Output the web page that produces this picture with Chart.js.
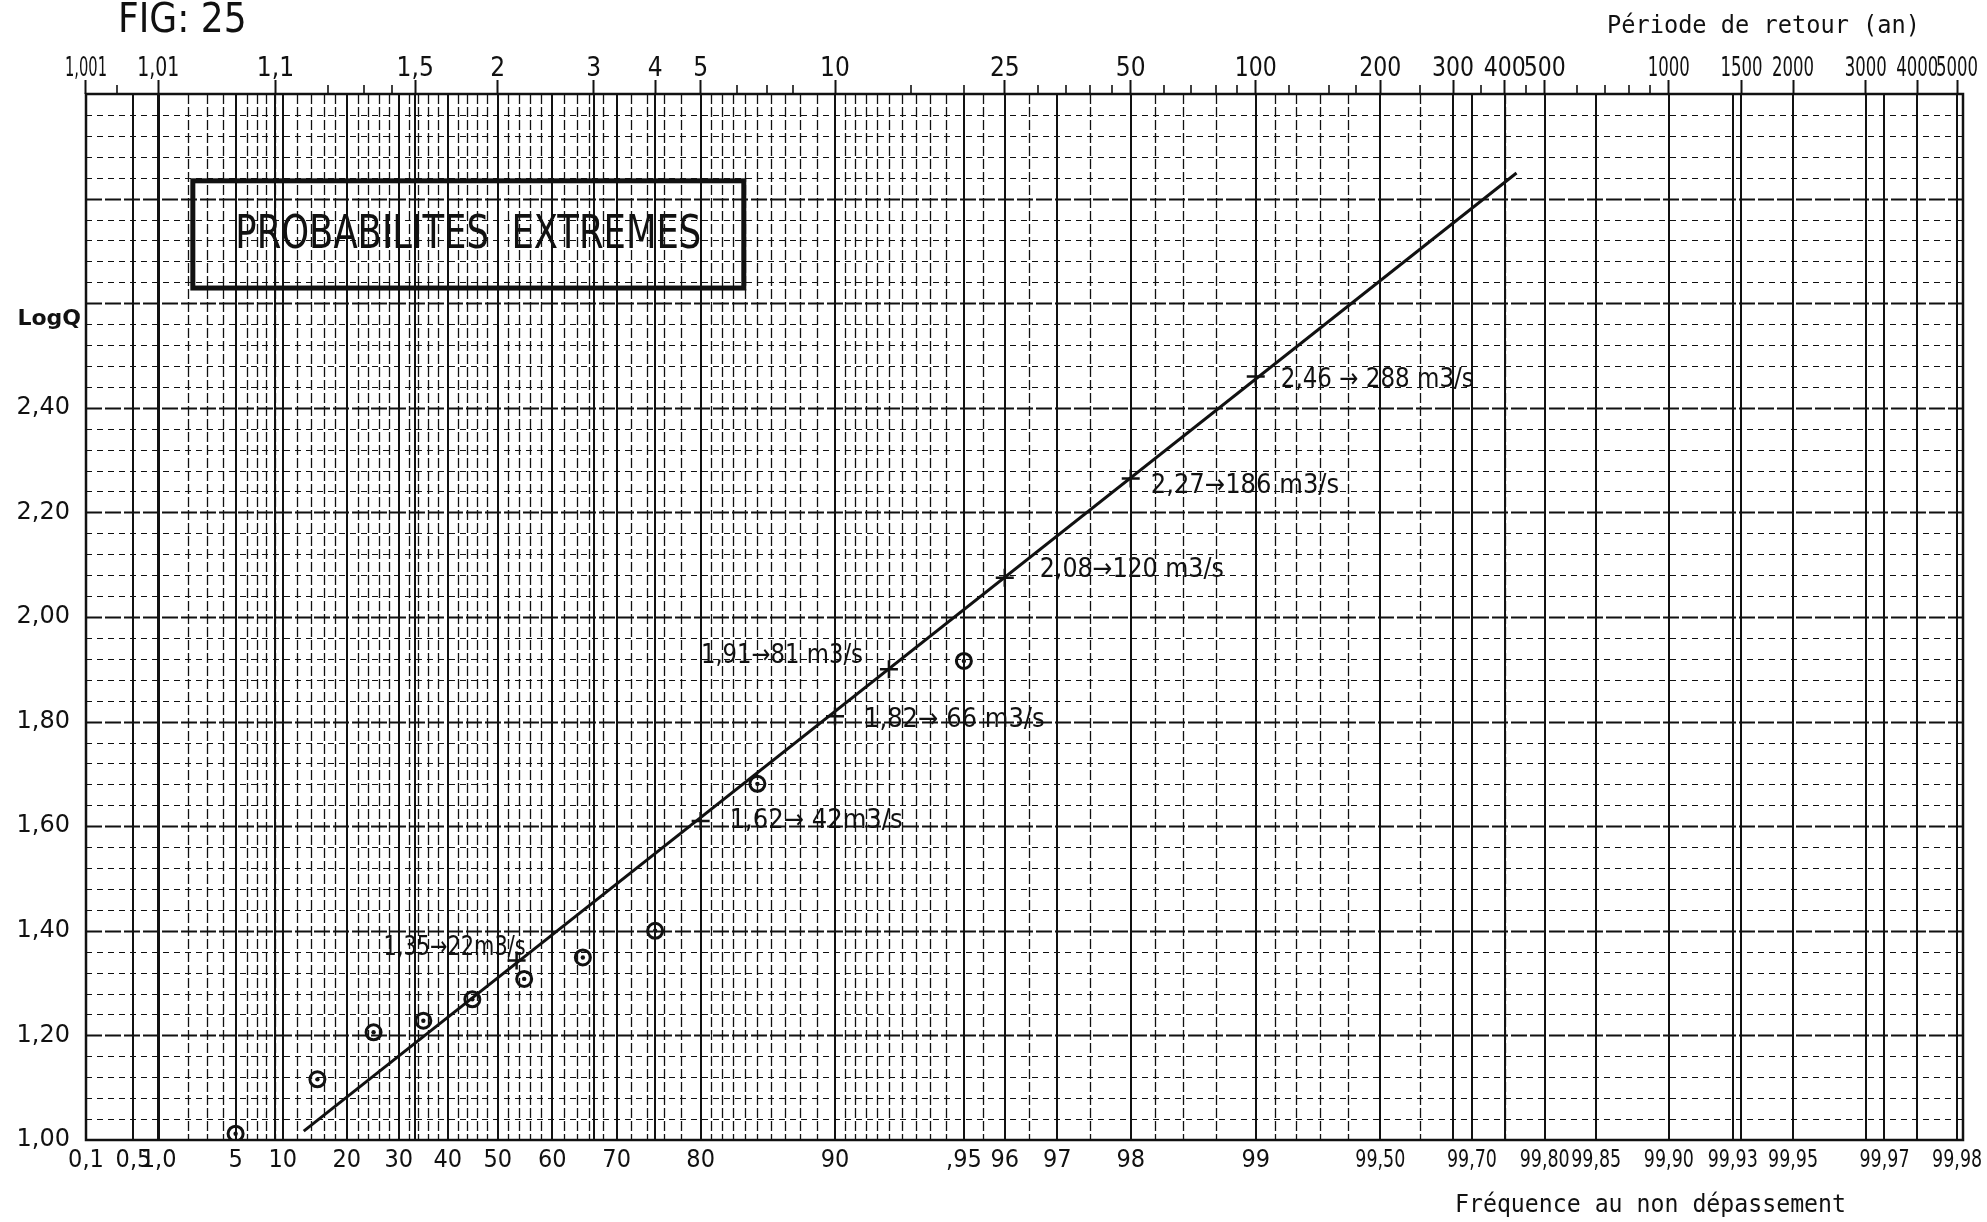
<!DOCTYPE html>
<html>
<head>
    <title>Probabilites extremes - Fig 25</title>
    <script src="https://cdn.jsdelivr.net/npm/chart.js"></script>
    <style>
        body {
            margin: 0;
            background-color: #ffffff;
        }
        #chartBox {
            width: 1987px;
            height: 1222px;
        }
    </style>
</head>
<body>
    <div id="chartBox">
        <canvas id="gumbelChart" width="1987" height="1222"></canvas>
    </div>

    <script>
        // bottom axis: frequency of non exceedance (%)
        const freqTicks = [0.1, 0.5, 1, 5, 10, 20, 30, 40, 50, 60, 70, 80, 90, 95, 96, 97, 98, 99, 99.5, 99.7, 99.8, 99.85, 99.9, 99.93, 99.95, 99.97, 99.98];
        const freqLabels = ['0,1', '0,5', '1,0', '5', '10', '20', '30', '40', '50', '60', '70', '80', '90', ',95', '96', '97', '98', '99', '99,50', '99,70', '99,80', '99,85', '99,90', '99,93', '99,95', '99,97', '99,98'];
        const freqMinor = [2, 3, 4, 6, 7, 8, 9, 12, 14, 16, 18, 22, 24, 26, 28, 32, 34, 36, 38, 42, 44, 46, 48, 52, 54, 56, 58, 62, 64, 66, 68, 72, 74, 76, 78, 81, 82, 83, 84, 85, 86, 87, 88, 89, 90.5, 91, 91.5, 92, 92.5, 93, 93.5, 94, 94.5, 95.5, 96.5, 97.5, 98.25, 98.5, 98.75, 99.1, 99.2, 99.3, 99.4, 99.6, 99.75];

        // top axis: return period (years)
        const periodTicks = [1.001, 1.01, 1.1, 1.5, 2, 3, 4, 5, 10, 25, 50, 100, 200, 300, 400, 500, 1000, 1500, 2000, 3000, 4000, 5000];
        const periodLabels = ['1,001', '1,01', '1,1', '1,5', '2', '3', '4', '5', '10', '25', '50', '100', '200', '300', '400', '500', '1000', '1500', '2000', '3000', '4000', '5000'];
        const periodMinor = [1.003, 1.2, 1.3, 1.4, 6, 7, 8, 15, 20, 30, 35, 40, 45, 60, 70, 80, 90, 120, 150, 175, 250, 350, 450, 600, 700, 800, 900];

        // left axis: log Q
        const logQTicks = [1.0, 1.2, 1.4, 1.6, 1.8, 2.0, 2.2, 2.4];
        const logQLabels = ['1,00', '1,20', '1,40', '1,60', '1,80', '2,00', '2,20', '2,40'];

        // observed maxima (circles)
        const obsFreq = [5, 15, 25, 35, 45, 55, 65, 75, 85, 95];
        const obsLogQ = [1.012, 1.116, 1.206, 1.228, 1.269, 1.308, 1.349, 1.400, 1.681, 1.916];

        // values read on the adjusted line (crosses)
        const fitFreq = [53.6, 80, 90, 92.5, 96, 98, 99];
        const fitLogQ = [1.343, 1.61, 1.81, 1.90, 2.075, 2.265, 2.46];
        const fitLabels = ['1,35\u219222m3/s', '1,62\u2192 42m3/s', '1,82\u2192 66 m3/s', '1,91\u219281 m3/s', '2,08\u2192120 m3/s', '2,27\u2192186 m3/s', '2,46 \u2192 288 m3/s'];

        // Gumbel line end points
        const lineFreq = [12.9, 99.766];
        const lineLogQ = [1.017, 2.849];

        // layout of the cross labels (px offset from the cross, max width)
        const labelOffsets = [[-133, -13, 142], [29, 0, 177], [29, 4, 184], [-188, -13, 162], [35, -8, 184], [20, 8, 199], [25, 4, 193]];
        const titleBox = { u0: -1.336, u1: 1.741, q0: 2.629, q1: 2.834 };

        const condensed = "'DejaVu Sans Condensed', 'Liberation Sans Narrow', sans-serif";
        const gumbel = f => -Math.log(-Math.log(f / 100));
        const fromPeriod = t => gumbel(100 * (1 - 1 / t));

        const paperGrid = {
            id: 'paperGrid',
            beforeDatasetsDraw(chart) {
                const { ctx, chartArea: a, scales: { x, y } } = chart;
                ctx.save();
                ctx.strokeStyle = '#111';

                // horizontal lines every 0.04, heavier every 0.2
                for (let k = 1; k < 50; k++) {
                    const py = Math.round(y.getPixelForValue(1 + k * 0.04)) + 0.5;
                    const major = k % 5 === 0;
                    ctx.lineWidth = major ? 1.8 : 1;
                    ctx.setLineDash(major ? [16, 3] : [6, 5]);
                    ctx.beginPath();
                    ctx.moveTo(a.left, py);
                    ctx.lineTo(a.right, py);
                    ctx.stroke();
                }

                // vertical minor lines
                ctx.lineWidth = 1.3;
                ctx.setLineDash([10, 3]);
                freqMinor.forEach(f => {
                    const px = Math.round(x.getPixelForValue(gumbel(f))) + 0.5;
                    ctx.beginPath();
                    ctx.moveTo(px, a.top);
                    ctx.lineTo(px, a.bottom);
                    ctx.stroke();
                });

                // vertical main lines
                ctx.lineWidth = 2;
                ctx.setLineDash([]);
                freqTicks.concat(periodTicks.map(t => 100 * (1 - 1 / t))).forEach(f => {
                    const px = Math.round(x.getPixelForValue(gumbel(f)));
                    ctx.beginPath();
                    ctx.moveTo(px, a.top);
                    ctx.lineTo(px, a.bottom);
                    ctx.stroke();
                });

                // small ticks above the top edge
                ctx.lineWidth = 1.6;
                periodMinor.forEach(t => {
                    const px = Math.round(x.getPixelForValue(fromPeriod(t)));
                    ctx.beginPath();
                    ctx.moveTo(px, a.top - 9);
                    ctx.lineTo(px, a.top);
                    ctx.stroke();
                });

                // frame
                ctx.lineWidth = 2.5;
                ctx.strokeRect(a.left, a.top, a.right - a.left, a.bottom - a.top);
                ctx.restore();
            }
        };

        // squeezed axis labels, like the hand lettering of the printed paper
        const drawAxisLabels = (ctx, scale, values, labels, py, cap) => {
            labels.forEach((txt, i) => {
                const w = Math.min(ctx.measureText(txt).width, cap);
                ctx.fillText(txt, scale.getPixelForValue(values[i]), py, w);
            });
        };

        const paperText = {
            id: 'paperText',
            afterDatasetsDraw(chart) {
                const { ctx, scales: { x, x2, y } } = chart;
                ctx.save();
                ctx.fillStyle = '#111';
                ctx.strokeStyle = '#111';

                ctx.textBaseline = 'middle';
                ctx.textAlign = 'center';
                ctx.font = `25px ${condensed}`;
                drawAxisLabels(ctx, x, freqTicks.map(gumbel), freqLabels, 1160, 50);
                ctx.font = `26px ${condensed}`;
                drawAxisLabels(ctx, x2, periodTicks.map(fromPeriod), periodLabels, 69, 42);

                ctx.font = `27px ${condensed}`;
                ctx.textAlign = 'left';
                fitLabels.forEach((txt, i) => {
                    const px = x.getPixelForValue(gumbel(fitFreq[i]));
                    const py = y.getPixelForValue(fitLogQ[i]);
                    const [dx, dy, w] = labelOffsets[i];
                    ctx.fillText(txt, px + dx, py + dy, w);
                });

                // title box
                const bx0 = x.getPixelForValue(titleBox.u0);
                const bx1 = x.getPixelForValue(titleBox.u1);
                const by0 = y.getPixelForValue(titleBox.q1);
                const by1 = y.getPixelForValue(titleBox.q0);
                ctx.lineWidth = 5;
                ctx.strokeRect(bx0, by0, bx1 - bx0, by1 - by0);
                ctx.font = `46px ${condensed}`;
                ctx.textAlign = 'center';
                ctx.fillText('PROBABILITES  EXTREMES', (bx0 + bx1) / 2, (by0 + by1) / 2 + 2, 466);

                // axis captions
                ctx.font = "bold 22px 'DejaVu Sans', sans-serif";
                ctx.textAlign = 'right';
                ctx.fillText('LogQ', 81, y.getPixelForValue(2.57));

                ctx.textAlign = 'left';
                ctx.font = `40px ${condensed}`;
                ctx.fillText('FIG: 25', 118, 22, 132);
                ctx.font = "24px 'DejaVu Sans Mono', monospace";
                ctx.fillText('P\u00e9riode de retour (an)', 1607, 27, 313);
                ctx.fillText('Fr\u00e9quence au non d\u00e9passement', 1455, 1206, 391);
                ctx.restore();
            }
        };

        new Chart(document.getElementById('gumbelChart'), {
            type: 'scatter',
            data: {
                datasets: [
                    {
                        label: 'Droite de Gumbel',
                        data: lineFreq.map((f, i) => ({ x: gumbel(f), y: lineLogQ[i] })),
                        showLine: true,
                        borderColor: '#111',
                        borderWidth: 3,
                        pointRadius: 0,
                        order: 3
                    },
                    {
                        label: 'Valeurs ajustees',
                        data: fitFreq.map((f, i) => ({ x: gumbel(f), y: fitLogQ[i] })),
                        pointStyle: 'cross',
                        pointRadius: 9,
                        borderColor: '#111',
                        borderWidth: 2.5,
                        order: 2
                    },
                    {
                        label: 'Observations',
                        data: obsFreq.map((f, i) => ({ x: gumbel(f), y: obsLogQ[i] })),
                        pointStyle: 'circle',
                        pointRadius: 7.5,
                        borderColor: '#111',
                        backgroundColor: 'rgba(0, 0, 0, 0)',
                        borderWidth: 3,
                        order: 1
                    },
                    {
                        label: 'Observations (centre)',
                        data: obsFreq.map((f, i) => ({ x: gumbel(f), y: obsLogQ[i] })),
                        pointStyle: 'circle',
                        pointRadius: 2.2,
                        borderWidth: 0,
                        backgroundColor: '#111',
                        order: 0
                    }
                ]
            },
            options: {
                responsive: false,
                animation: false,
                layout: { padding: { right: 24 } },
                plugins: {
                    legend: { display: false },
                    tooltip: { enabled: false }
                },
                scales: {
                    x: {
                        type: 'linear',
                        position: 'bottom',
                        min: gumbel(0.1),
                        max: 8.55,
                        afterBuildTicks: s => { s.ticks = freqTicks.map(f => ({ value: gumbel(f) })); },
                        afterFit: s => { s.height = 82; },
                        grid: { display: false },
                        border: { display: false },
                        ticks: { display: false }
                    },
                    x2: {
                        type: 'linear',
                        axis: 'x',
                        position: 'top',
                        min: gumbel(0.1),
                        max: 8.55,
                        afterBuildTicks: s => { s.ticks = periodTicks.map(t => ({ value: fromPeriod(t) })); },
                        afterFit: s => { s.height = 94; },
                        grid: { drawOnChartArea: false, tickLength: 14, tickColor: '#111', tickWidth: 2 },
                        border: { display: false },
                        ticks: { display: false }
                    },
                    y: {
                        type: 'linear',
                        min: 1.0,
                        max: 3.0,
                        afterBuildTicks: s => { s.ticks = logQTicks.map(q => ({ value: q })); },
                        afterFit: s => { s.width = 86; },
                        grid: { display: false },
                        border: { display: false },
                        ticks: {
                            padding: 8,
                            color: '#111',
                            font: { family: "'DejaVu Sans', sans-serif", size: 24 },
                            callback: (v, i) => logQLabels[i]
                        }
                    }
                }
            },
            plugins: [paperGrid, paperText]
        });
    </script>
</body>
</html>
